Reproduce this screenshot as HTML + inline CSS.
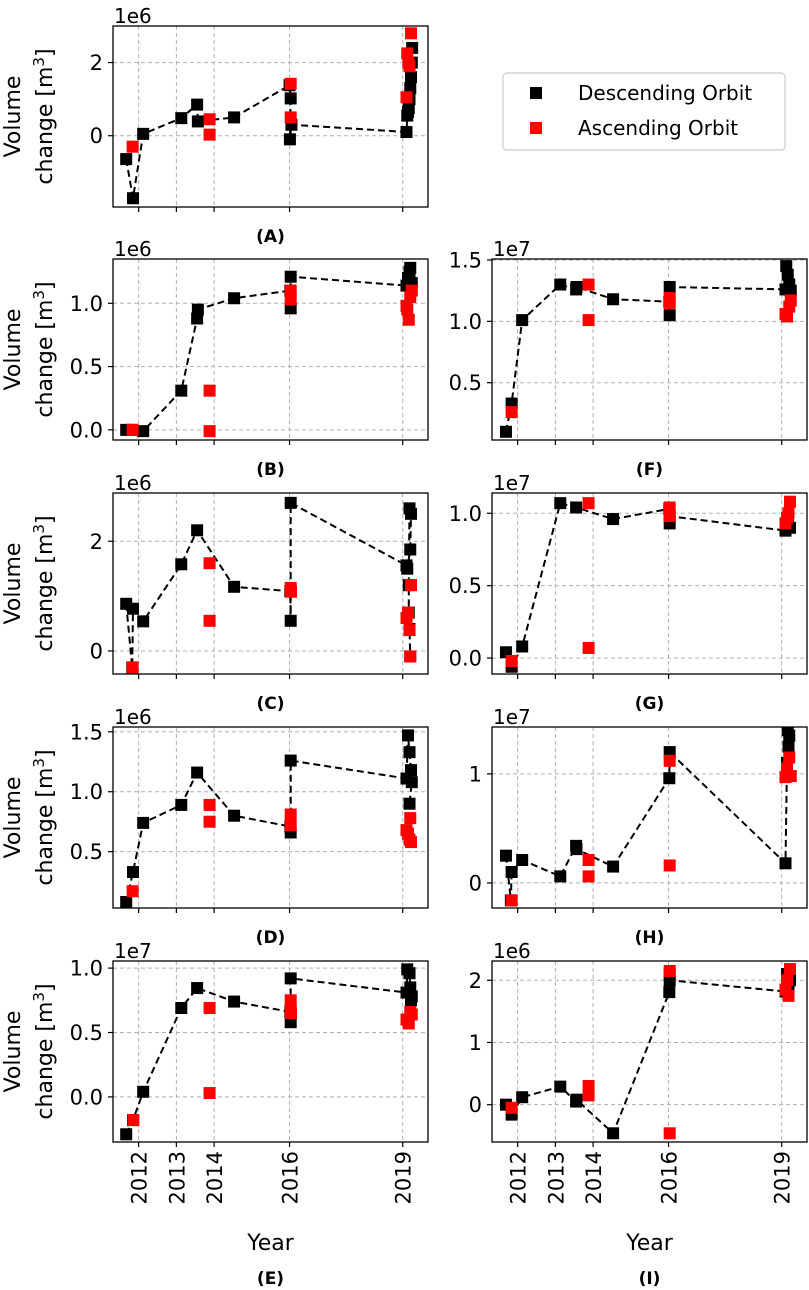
<!DOCTYPE html>
<html><head><meta charset="utf-8"><style>
html,body{margin:0;padding:0;background:#fff;}
svg{display:block;font-family:"DejaVu Sans","Liberation Sans",sans-serif;}
</style></head><body>
<svg id="fig" width="809" height="1290" viewBox="0 0 809 1290" xmlns="http://www.w3.org/2000/svg">
<g id="legend">
<rect x="503" y="73" width="282" height="77" rx="4" fill="#fff" stroke="#ccc" stroke-width="1.2"/>
<rect x="530" y="87" width="12" height="12" fill="#000"/>
<text x="578" y="100" font-size="20">Descending Orbit</text>
<rect x="530" y="122" width="12" height="12" fill="#f00"/>
<text x="578" y="135" font-size="20">Ascending Orbit</text>
</g>
</svg>
<script>
// ---- data (values in units of the axis offset, e.g. 1e6 / 1e7) ----
const xTickYears = [2012, 2013, 2014, 2016, 2019];
const xTickLabels = ["2012", "2013", "2014", "2016", "2019"];

const aDescYears = [2011.67, 2011.85, 2012.12, 2013.13, 2013.55, 2013.57, 2014.53, 2016.0, 2016.03, 2016.01, 2016.05, 2019.1, 2019.12, 2019.14, 2019.16, 2019.18, 2019.2, 2019.22, 2019.24, 2019.25];
const aDescVals  = [-0.64, -1.71, 0.05, 0.48, 0.85, 0.39, 0.50, 1.38, 1.02, -0.1, 0.3, 0.1, 0.55, 0.65, 0.75, 1.0, 1.3, 1.6, 2.0, 2.4];
const aAscYears = [2011.84, 2013.88, 2013.88, 2016.03, 2016.03, 2019.1, 2019.12, 2019.15, 2019.18, 2019.22];
const aAscVals  = [-0.3, 0.45, 0.03, 1.42, 0.5, 1.05, 2.25, 2.0, 1.9, 2.8];

const bDescYears = [2011.67, 2011.82, 2012.12, 2013.13, 2013.55, 2013.57, 2014.53, 2016.02, 2016.03, 2016.03, 2019.1, 2019.14, 2019.18, 2019.2, 2019.24];
const bDescVals  = [0.0, 0.0, -0.01, 0.31, 0.88, 0.95, 1.04, 1.1, 0.96, 1.21, 1.14, 1.2, 1.25, 1.28, 1.16];
const bAscYears = [2011.84, 2013.88, 2013.88, 2016.03, 2016.03, 2019.1, 2019.12, 2019.16, 2019.2, 2019.24];
const bAscVals  = [0.0, 0.31, -0.01, 1.03, 1.1, 0.98, 0.95, 0.87, 1.05, 1.1];

const cDescYears = [2011.67, 2011.83, 2011.85, 2012.12, 2013.13, 2013.55, 2014.53, 2016.02, 2016.03, 2016.03, 2019.1, 2019.12, 2019.2, 2019.22, 2019.18, 2019.16, 2019.16, 2019.18, 2019.2];
const cDescVals  = [0.86, -0.3, 0.77, 0.54, 1.58, 2.2, 1.17, 1.09, 0.55, 2.7, 1.56, 1.5, 1.85, 2.5, 2.6, 1.2, 0.7, 0.4, -0.1];
const cAscYears = [2011.84, 2013.88, 2013.88, 2016.03, 2016.04, 2019.1, 2019.14, 2019.18, 2019.22, 2019.2];
const cAscVals  = [-0.3, 1.6, 0.55, 1.15, 1.08, 0.6, 0.7, 0.38, 1.2, -0.1];

const dDescYears = [2011.67, 2011.85, 2012.12, 2013.13, 2013.55, 2014.53, 2016.02, 2016.03, 2016.03, 2019.1, 2019.14, 2019.18, 2019.22, 2019.24, 2019.18];
const dDescVals  = [0.08, 0.33, 0.74, 0.89, 1.16, 0.8, 0.71, 0.66, 1.26, 1.11, 1.47, 1.33, 1.18, 1.08, 0.9];
const dAscYears = [2011.84, 2013.88, 2013.88, 2016.03, 2016.03, 2019.1, 2019.14, 2019.2, 2019.18, 2019.22];
const dAscVals  = [0.17, 0.89, 0.75, 0.81, 0.72, 0.68, 0.65, 0.78, 0.6, 0.58];

const eDescYears = [2011.67, 2011.85, 2012.12, 2013.13, 2013.55, 2014.53, 2016.02, 2016.03, 2016.03, 2019.1, 2019.12, 2019.18, 2019.2, 2019.24, 2019.22];
const eDescVals  = [-0.29, -0.18, 0.04, 0.69, 0.845, 0.74, 0.66, 0.58, 0.92, 0.81, 0.99, 0.96, 0.85, 0.78, 0.75];
const eAscYears = [2011.86, 2013.88, 2013.88, 2016.03, 2016.03, 2016.04, 2019.1, 2019.16, 2019.2, 2019.24];
const eAscVals  = [-0.18, 0.69, 0.03, 0.75, 0.68, 0.65, 0.6, 0.57, 0.66, 0.64];

const fDescYears = [2011.69, 2011.84, 2012.12, 2013.13, 2013.55, 2013.56, 2014.53, 2016.02, 2016.03, 2016.03, 2019.1, 2019.12, 2019.16, 2019.2, 2019.24];
const fDescVals  = [0.10, 0.33, 1.01, 1.30, 1.26, 1.28, 1.18, 1.16, 1.05, 1.28, 1.26, 1.45, 1.38, 1.3, 1.25];
const fAscYears = [2011.84, 2013.88, 2013.88, 2016.03, 2016.03, 2019.1, 2019.14, 2019.2, 2019.24];
const fAscVals  = [0.26, 1.3, 1.01, 1.19, 1.15, 1.06, 1.04, 1.12, 1.17];

const gDescYears = [2011.69, 2011.84, 2012.12, 2013.13, 2013.55, 2014.53, 2016.02, 2016.03, 2016.03, 2019.1, 2019.16, 2019.22];
const gDescVals  = [0.04, -0.06, 0.08, 1.07, 1.04, 0.96, 1.03, 0.93, 0.98, 0.88, 0.92, 0.9];
const gAscYears = [2011.84, 2013.88, 2013.88, 2016.03, 2016.03, 2019.1, 2019.14, 2019.18, 2019.22];
const gAscVals  = [-0.02, 1.07, 0.07, 1.04, 0.98, 0.93, 0.97, 1.0, 1.08];

const hDescYears = [2011.69, 2011.82, 2011.84, 2012.12, 2013.13, 2013.55, 2013.56, 2014.53, 2016.02, 2016.03, 2019.1, 2019.14, 2019.18, 2019.2, 2019.16];
const hDescVals  = [0.25, -0.16, 0.1, 0.21, 0.06, 0.34, 0.31, 0.15, 0.96, 1.2, 0.18, 1.1, 1.25, 1.35, 1.4];
const hAscYears = [2011.84, 2013.88, 2013.88, 2016.03, 2016.03, 2019.1, 2019.14, 2019.2, 2019.24];
const hAscVals  = [-0.16, 0.21, 0.06, 0.16, 1.12, 0.97, 1.05, 1.15, 0.98];

const iDescYears = [2011.69, 2011.84, 2012.12, 2013.13, 2013.55, 2013.56, 2014.53, 2016.02, 2016.03, 2016.03, 2019.1, 2019.14, 2019.18, 2019.22];
const iDescVals  = [0.0, -0.16, 0.12, 0.29, 0.05, 0.08, -0.46, 1.81, 2.1, 2.0, 1.82, 2.1, 1.9, 2.0];
const iAscYears = [2011.84, 2013.88, 2013.88, 2016.03, 2016.03, 2019.1, 2019.14, 2019.18, 2019.22];
const iAscVals  = [-0.05, 0.3, 0.15, 2.15, -0.46, 1.85, 2.0, 1.75, 2.18];

const aTicks = [0, 2];           const aTickLabels = ["0", "2"];
const bTicks = [0, 0.5, 1.0];    const bTickLabels = ["0.0", "0.5", "1.0"];
const cTicks = [0, 2];           const cTickLabels = ["0", "2"];
const dTicks = [0.5, 1.0, 1.5];  const dTickLabels = ["0.5", "1.0", "1.5"];
const eTicks = [0, 0.5, 1.0];    const eTickLabels = ["0.0", "0.5", "1.0"];
const fTicks = [0.5, 1.0, 1.5];  const fTickLabels = ["0.5", "1.0", "1.5"];
const gTicks = [0, 0.5, 1.0];    const gTickLabels = ["0.0", "0.5", "1.0"];
const hTicks = [0, 1];           const hTickLabels = ["0", "1"];
const iTicks = [0, 1, 2];        const iTickLabels = ["0", "1", "2"];

const NS = "http://www.w3.org/2000/svg";
const svg = document.getElementById("fig");
const X_DOMAIN = [2011.32, 2019.67];
const PW = 315, PH = 181;

function el(tag, attrs, parent) {
  const e = document.createElementNS(NS, tag);
  for (const k in attrs) e.setAttribute(k, attrs[k]);
  parent.appendChild(e);
  return e;
}

const panels = [
  {id:"a", label:"(A)", x:113, y:26,  ylim:[-1.95,3.0],  ticks:aTicks, tl:aTickLabels, off:"1e6", dy:aDescYears, dv:aDescVals, ay:aAscYears, av:aAscVals, left:true},
  {id:"b", label:"(B)", x:113, y:259, ylim:[-0.08,1.35], ticks:bTicks, tl:bTickLabels, off:"1e6", dy:bDescYears, dv:bDescVals, ay:bAscYears, av:bAscVals, left:true},
  {id:"c", label:"(C)", x:113, y:493, ylim:[-0.42,2.88], ticks:cTicks, tl:cTickLabels, off:"1e6", dy:cDescYears, dv:cDescVals, ay:cAscYears, av:cAscVals, left:true},
  {id:"d", label:"(D)", x:113, y:727, ylim:[0.03,1.54],  ticks:dTicks, tl:dTickLabels, off:"1e6", dy:dDescYears, dv:dDescVals, ay:dAscYears, av:dAscVals, left:true},
  {id:"e", label:"(E)", x:113, y:961, ylim:[-0.35,1.055],ticks:eTicks, tl:eTickLabels, off:"1e7", dy:eDescYears, dv:eDescVals, ay:eAscYears, av:eAscVals, left:true, bottom:true},
  {id:"f", label:"(F)", x:492, y:259, ylim:[0.033,1.508],ticks:fTicks, tl:fTickLabels, off:"1e7", dy:fDescYears, dv:fDescVals, ay:fAscYears, av:fAscVals},
  {id:"g", label:"(G)", x:492, y:493, ylim:[-0.11,1.14], ticks:gTicks, tl:gTickLabels, off:"1e7", dy:gDescYears, dv:gDescVals, ay:gAscYears, av:gAscVals},
  {id:"h", label:"(H)", x:492, y:727, ylim:[-0.23,1.43], ticks:hTicks, tl:hTickLabels, off:"1e7", dy:hDescYears, dv:hDescVals, ay:hAscYears, av:hAscVals},
  {id:"i", label:"(I)", x:492, y:961, ylim:[-0.6,2.31],  ticks:iTicks, tl:iTickLabels, off:"1e6", dy:iDescYears, dv:iDescVals, ay:iAscYears, av:iAscVals, bottom:true}
];

panels.forEach(p => {
  const g = el("g", {}, svg);
  
  
  const sx = v => p.x + (v - X_DOMAIN[0]) / (X_DOMAIN[1] - X_DOMAIN[0]) * PW;
  const sy = v => p.y + PH - (v - p.ylim[0]) / (p.ylim[1] - p.ylim[0]) * PH;

  xTickYears.forEach((t, i) => {
    const l = el("line", {x1:sx(t), x2:sx(t), y1:p.y, y2:p.y+PH, stroke:"#b0b0b0", "stroke-width":1, "stroke-dasharray":"4,3"}, g);
    
    
    el("line", {x1:sx(t), x2:sx(t), y1:p.y+PH, y2:p.y+PH+5, stroke:"#000", "stroke-width":1.2}, g);
  });
  p.ticks.forEach((t, i) => {
    const l = el("line", {x1:p.x, x2:p.x+PW, y1:sy(t), y2:sy(t), stroke:"#b0b0b0", "stroke-width":1, "stroke-dasharray":"4,3"}, g);
    
    
    el("line", {x1:p.x-5, x2:p.x, y1:sy(t), y2:sy(t), stroke:"#000", "stroke-width":1.2}, g);
    const tx = el("text", {x:p.x-10, y:sy(t)+7.5, "font-size":21, "text-anchor":"end"}, g);
    tx.textContent = p.tl[i];
    
    
  });
  const off = el("text", {x:p.x+1, y:p.y-3, "font-size":20}, g);
  off.textContent = p.off;
  
  

  const cp = el("clipPath", {id:"clip-"+p.id}, g);
  el("rect", {x:p.x, y:p.y, width:PW, height:PH}, cp);
  const plot = el("g", {"clip-path":"url(#clip-"+p.id+")"}, g);

  const pts = p.dy.map((yr, i) => sx(yr).toFixed(1) + "," + sy(p.dv[i]).toFixed(1)).join(" ");
  const pl = el("polyline", {points:pts, fill:"none", stroke:"#000", "stroke-width":2, "stroke-dasharray":"7,4"}, plot);
  
  
  p.dy.forEach((yr, i) => {
    const r = el("rect", {x:sx(yr)-6, y:sy(p.dv[i])-6, width:12, height:12, fill:"#000"}, plot);
    
    
  });
  p.ay.forEach((yr, i) => {
    const r = el("rect", {x:sx(yr)-6, y:sy(p.av[i])-6, width:12, height:12, fill:"#f00"}, plot);
    
    
  });

  const fr = el("rect", {x:p.x, y:p.y, width:PW, height:PH, fill:"none", stroke:"#000", "stroke-width":1.3}, g);
  
  

  const lbY = p.bottom ? 1284 : p.y + PH + 35;
  const lb = el("text", {x:p.x+PW/2, y:lbY, "font-size":17, "font-weight":"bold", "text-anchor":"middle"}, g);
  lb.textContent = p.label;
  
  

  if (p.left) {
    const cy = p.y + PH/2;
    const t1 = el("text", {x:0, y:0, "font-size":22, "text-anchor":"middle", transform:"translate(20," + cy + ") rotate(-90)"}, g);
    t1.textContent = "Volume";
    
    
    const t2 = el("text", {x:0, y:0, "font-size":22, "text-anchor":"middle", transform:"translate(52," + cy + ") rotate(-90)"}, g);
    t2.innerHTML = 'change [m<tspan font-size="15" dy="-8">3</tspan><tspan dy="8">]</tspan>';
    
    
  }
  if (p.bottom) {
    xTickYears.forEach((t, i) => {
      const tx = el("text", {x:0, y:0, "font-size":21, "text-anchor":"end", transform:"translate(" + (sx(t)+8) + "," + (p.y+PH+9) + ") rotate(-90)"}, g);
      tx.textContent = xTickLabels[i];
      
      
    });
    const xt = el("text", {x:p.x+PW/2, y:1250, "font-size":22, "text-anchor":"middle"}, g);
    xt.textContent = "Year";
    
    
  }
});
svg.appendChild(document.getElementById("legend"));
</script>
</body></html>
